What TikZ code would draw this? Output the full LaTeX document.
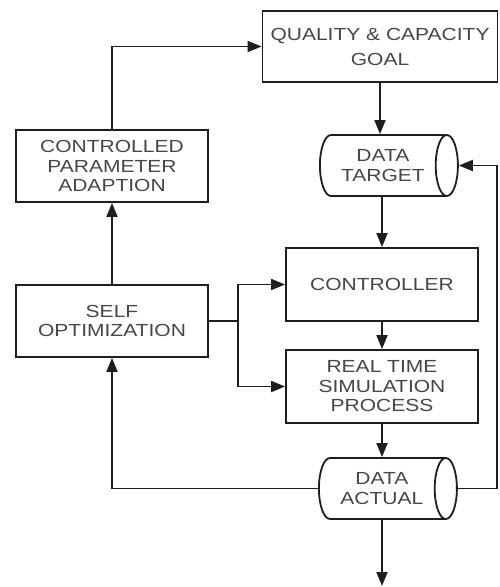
\documentclass[tikz,border=0pt]{standalone}
\usepackage{fontspec}
\newfontfamily\boxfont[FakeStretch=1.2]{Liberation Sans}
\definecolor{flowline}{RGB}{30,30,30}
\definecolor{flowtext}{RGB}{70,70,70}
\usetikzlibrary{arrows.meta,positioning,shapes.geometric,calc}

\tikzset{
  box/.style={draw=flowline, line width=1.8pt, rectangle, minimum width=192pt, minimum height=72pt,
    align=center, text=flowtext, font=\boxfont\fontsize{17.5}{19.5}\selectfont, inner sep=0pt},
  store/.style={draw=flowline, line width=1.8pt, cylinder, shape border rotate=0, aspect=0.7,
    minimum width=61pt, minimum height=138pt, align=center, text=flowtext,
    font=\boxfont\fontsize{17.5}{19.5}\selectfont, inner sep=0pt},
  flow/.style={draw=flowline, line width=1.8pt, -{Triangle[length=14pt,width=11pt]}},
  wire/.style={draw=flowline, line width=1.8pt}
}

\begin{document}
\begin{tikzpicture}[x=1pt, y=-1pt]
  \useasboundingbox (0,0) rectangle (499,587);

  % Blocks
  \node[box, minimum width=235pt, minimum height=71pt, font=\boxfont\fontsize{17.5}{25}\selectfont] (goal) at (380,46.5) {QUALITY \& CAPACITY\\GOAL};
  \node[box] (adapt) at (112,166) {CONTROLLED\\PARAMETER\\ADAPTION};
  \node[box] (selfopt) at (112,321) {SELF\\OPTIMIZATION};
  \node[box, minimum height=73pt] (ctrl) at (382,284.5) {CONTROLLER};
  \node[box, minimum height=73pt] (rtsp) at (382,386.5) {REAL TIME\\SIMULATION\\PROCESS};

  % Data stores
  \node[store, anchor=west] (target) at (319,165.5) {DATA\\TARGET};
  \node[store, anchor=west] (actual) at (318,488.5) {DATA\\ACTUAL};

  % Free ends
  \coordinate (rim) at (497,0);
  \coordinate (out) at (382,586);

  % Main chain
  \draw[flow] (goal.south) -- (goal.south |- target.north);
  \draw[flow] (ctrl.north |- target.south) -- (ctrl.north);
  \draw[flow] (ctrl.south) -- (rtsp.north);
  \draw[flow] (rtsp.south) -- (rtsp.south |- actual.north);
  \draw[flow] (actual.south -| out) -- (out);

  % Optimisation loop
  \draw[wire] (selfopt.east) -- ++(29,0) coordinate (split);
  \draw[flow] (split) |- (ctrl.west);
  \draw[flow] (split) |- (rtsp.west);
  \draw[flow] (selfopt.north) -- (adapt.south);
  \draw[flow] (adapt.north) |- (goal.west);

  % Feedback
  \draw[flow] (actual.west) -| (selfopt.south);
  \draw[flow] (actual.east) -- (actual.east -| rim) |- (target.east);
\end{tikzpicture}
\end{document}
